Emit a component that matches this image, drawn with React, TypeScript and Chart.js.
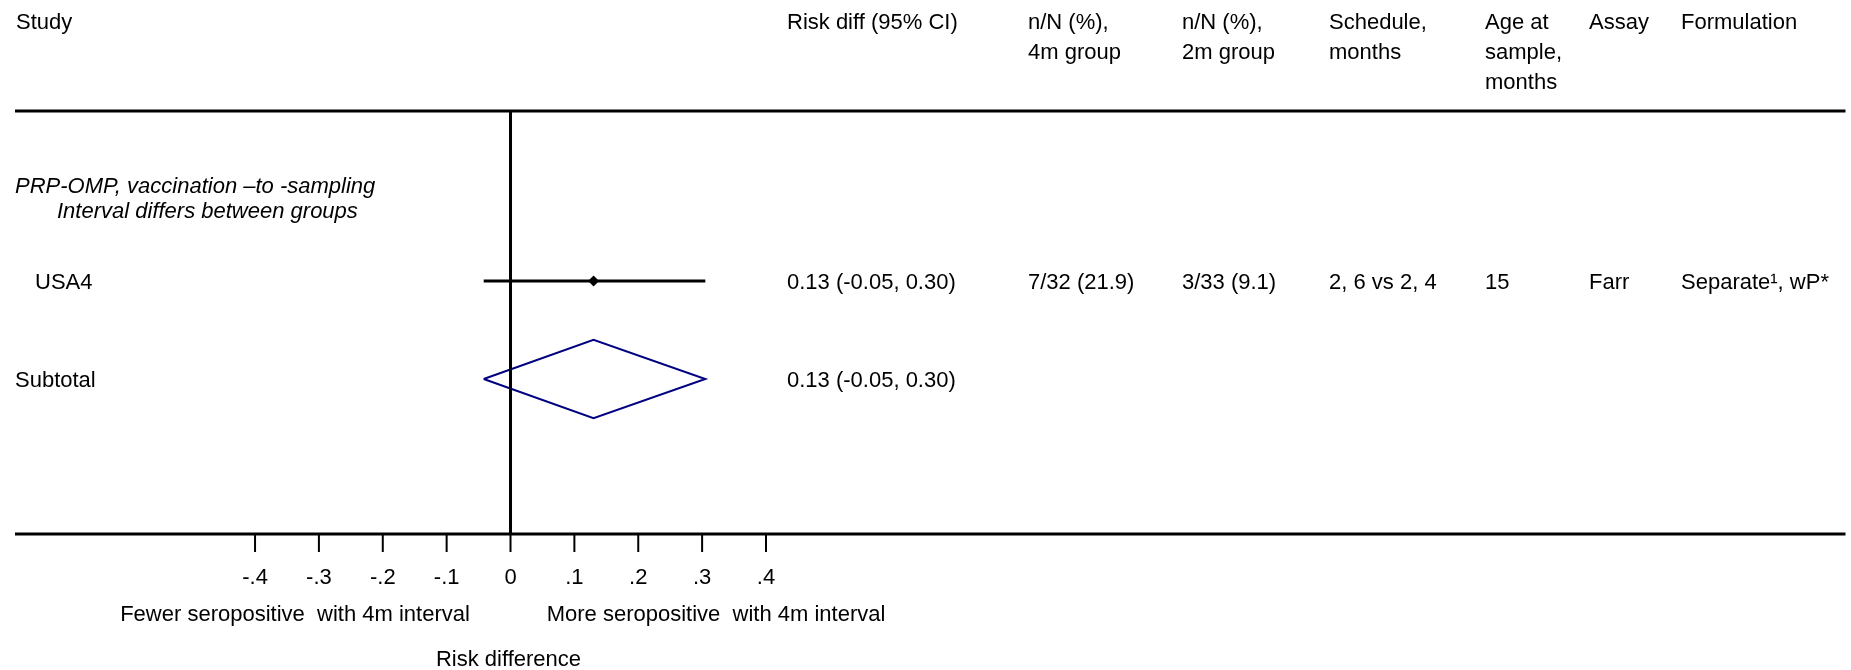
import React, { useEffect, useRef } from 'react';
import { Chart, registerables } from 'chart.js';
Chart.register(...registerables);

// ---------- data ----------
const headerStudy = 'Study';
const headerColumns: string[][] = [
  ['Risk diff (95% CI)'],
  ['n/N (%),', '4m group'],
  ['n/N (%),', '2m group'],
  ['Schedule,', 'months'],
  ['Age at', 'sample,', 'months'],
  ['Assay'],
  ['Formulation'],
];
const groupTitle = ['PRP-OMP, vaccination \u2013to -sampling', 'Interval differs between groups'];
const studyNames = ['USA4'];
const estimates = [0.13];
const lowerCI = [-0.042];
const upperCI = [0.305];
const riskDiffLabels = ['0.13 (-0.05, 0.30)'];
const n4mGroup = ['7/32 (21.9)'];
const n2mGroup = ['3/33 (9.1)'];
const schedules = ['2, 6 vs 2, 4'];
const agesAtSample = ['15'];
const assays = ['Farr'];
const formulations = ['Separate\u00B9, wP*'];
const subtotalLabel = 'Subtotal';
const subtotalEstimate = 0.13;
const subtotalLower = -0.042;
const subtotalUpper = 0.305;
const subtotalText = '0.13 (-0.05, 0.30)';
const tickValues = [-0.4, -0.3, -0.2, -0.1, 0, 0.1, 0.2, 0.3, 0.4];
const tickLabels = ['-.4', '-.3', '-.2', '-.1', '0', '.1', '.2', '.3', '.4'];
const leftDirection = 'Fewer seropositive  with 4m interval';
const rightDirection = 'More seropositive  with 4m interval';
const axisTitle = 'Risk difference';

// ---------- layout ----------
const W = 1851;
const H = 670;
const FONT = '"Liberation Sans", Arial, sans-serif';
const FS = 22;
const DY = 2;
const colX = [787, 1028, 1182, 1329, 1485, 1589, 1681];
const diamondHalf = 0.4; // in row units

export default function App() {
  const ref = useRef<HTMLCanvasElement | null>(null);
  useEffect(() => {
    document.body.style.margin = '0';
    const canvas = ref.current!;
    const studyRows = studyNames.map((_, i) => i + 1);
    const subtotalRow = studyNames.length + 1;

    const textPlugin = {
      id: 'forestText',
      afterDatasetsDraw(chart: any) {
        const ctx = chart.ctx as CanvasRenderingContext2D;
        const xs = chart.scales.x;
        const ys = chart.scales.y;
        const area = chart.chartArea;
        ctx.save();
        ctx.fillStyle = '#000';
        ctx.strokeStyle = '#000';
        ctx.textBaseline = 'middle';
        ctx.textAlign = 'left';
        ctx.font = `${FS}px ${FONT}`;
        // header
        ctx.fillText(headerStudy, 16, 21 + DY);
        headerColumns.forEach((lines, c) => {
          lines.forEach((t, l) => ctx.fillText(t, colX[c], 21 + DY + l * 30));
        });
        // horizontal rules
        ctx.lineWidth = 3;
        ctx.beginPath();
        ctx.moveTo(area.left, area.top);
        ctx.lineTo(area.right, area.top);
        ctx.moveTo(area.left, area.bottom);
        ctx.lineTo(area.right, area.bottom);
        ctx.stroke();
        // zero line
        const x0 = xs.getPixelForValue(0);
        ctx.beginPath();
        ctx.moveTo(x0, area.top);
        ctx.lineTo(x0, area.bottom);
        ctx.stroke();
        // ticks
        ctx.lineWidth = 2;
        tickValues.forEach((v, i) => {
          const px = xs.getPixelForValue(v);
          ctx.beginPath();
          ctx.moveTo(px, area.bottom);
          ctx.lineTo(px, area.bottom + 18);
          ctx.stroke();
          ctx.textAlign = 'center';
          ctx.fillText(tickLabels[i], px, 576 + DY);
        });
        ctx.textAlign = 'center';
        ctx.fillText(leftDirection, 295, 613 + DY);
        ctx.fillText(rightDirection, 716, 613 + DY);
        ctx.fillText(axisTitle, xs.getPixelForValue(0) - 2, 658 + DY);
        // group title
        ctx.textAlign = 'left';
        ctx.font = `italic ${FS}px ${FONT}`;
        ctx.fillText(groupTitle[0], 15, 185 + DY);
        ctx.fillText(groupTitle[1], 57, 210 + DY);
        ctx.font = `${FS}px ${FONT}`;
        // study rows
        studyNames.forEach((name, i) => {
          const y = ys.getPixelForValue(studyRows[i]) + DY;
          ctx.fillText(name, 35, y);
          const cols = [riskDiffLabels[i], n4mGroup[i], n2mGroup[i], schedules[i], agesAtSample[i], assays[i], formulations[i]];
          cols.forEach((t, c) => ctx.fillText(t, colX[c], y));
        });
        const ySub = ys.getPixelForValue(subtotalRow) + DY;
        ctx.fillText(subtotalLabel, 15, ySub);
        ctx.fillText(subtotalText, colX[0], ySub);
        ctx.restore();
      },
    };

    const chart = new Chart(canvas, {
      type: 'scatter',
      data: {
        datasets: [
          ...studyNames.map((_, i) => ({
            type: 'line' as const,
            data: [
              { x: lowerCI[i], y: studyRows[i] },
              { x: upperCI[i], y: studyRows[i] },
            ],
            borderColor: '#000',
            borderWidth: 3,
            pointRadius: 0,
            showLine: true,
          })),
          {
            type: 'scatter' as const,
            data: studyNames.map((_, i) => ({ x: estimates[i], y: studyRows[i] })),
            pointStyle: 'rectRot',
            pointRadius: 5.5,
            backgroundColor: '#000',
            borderColor: '#000',
            borderWidth: 0,
          },
          {
            type: 'line' as const,
            data: [
              { x: subtotalLower, y: subtotalRow },
              { x: subtotalEstimate, y: subtotalRow - diamondHalf },
              { x: subtotalUpper, y: subtotalRow },
              { x: subtotalEstimate, y: subtotalRow + diamondHalf },
              { x: subtotalLower, y: subtotalRow },
            ],
            borderColor: '#000080',
            borderWidth: 2,
            pointRadius: 0,
            fill: false,
            tension: 0,
            showLine: true,
          },
        ],
      },
      options: {
        animation: false,
        responsive: false,
        devicePixelRatio: 1,
        layout: { padding: { left: 15, right: 0, top: 111, bottom: H - 534 } },
        plugins: { legend: { display: false }, tooltip: { enabled: false } },
        scales: {
          x: { type: 'linear', display: false, min: -(512 - 15) / 640.6, max: (W - 512) / 640.6 },
          y: { type: 'linear', display: false, reverse: true, min: 1 - (281 - 111) / 98, max: 2 + (534 - 379) / 98 },
        },
      },
      plugins: [textPlugin],
    } as any);
    return () => chart.destroy();
  }, []);
  return <canvas ref={ref} width={W} height={H} style={{ display: 'block' }} />;
}
